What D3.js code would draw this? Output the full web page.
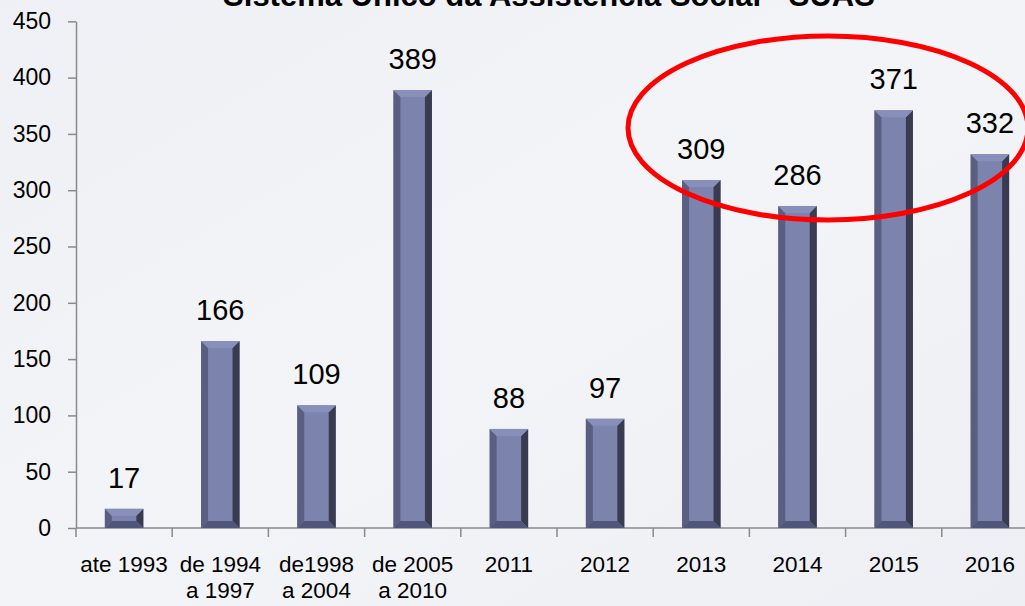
<!DOCTYPE html>
<html><head><meta charset="utf-8">
<script src="https://cdn.jsdelivr.net/npm/d3@7"></script>
<style>html,body{margin:0;padding:0;background:#f1f2f6;overflow:hidden}</style>
</head><body>
<svg id="c" width="1025" height="606"></svg>
<script>
const categories = [["ate 1993"],["de 1994","a 1997"],["de1998","a 2004"],["de 2005","a 2010"],["2011"],["2012"],["2013"],["2014"],["2015"],["2016"]];
const values = [17,166,109,389,88,97,309,286,371,332];
const yTicks = [0,50,100,150,200,250,300,350,400,450];
const title = "Sistema Único da Assistência Social - SUAS";

const svg = d3.select("#c");
const W = 1025, H = 606;
const defs = svg.append("defs");
const bg = defs.append("linearGradient").attr("id","bg").attr("x1","0").attr("y1","0").attr("x2","1").attr("y2","1");
bg.append("stop").attr("offset","0").attr("stop-color","#eff0f5");
bg.append("stop").attr("offset","0.5").attr("stop-color","#f3f4f7");
bg.append("stop").attr("offset","1").attr("stop-color","#eeeff4");
svg.append("rect").attr("width",W).attr("height",H).attr("fill","url(#bg)");

const font = "'Liberation Sans', Arial, sans-serif";
const x0 = 76, plotW = 962;
const x = d3.scaleBand().domain(d3.range(values.length)).range([x0, x0+plotW]).paddingInner(0.6).paddingOuter(0.3);
const y = d3.scaleLinear().domain([0,450]).range([528, 21.3]);

// title (clipped at top)
svg.append("text").attr("x",549).attr("y",6).attr("text-anchor","middle")
  .attr("font-family",font).attr("font-weight","bold").attr("font-size",31).attr("fill","#000").text(title);

// y axis
const ya = svg.append("g").attr("transform",`translate(${x0},0)`)
  .call(d3.axisLeft(y).tickValues(yTicks).tickSize(8).tickSizeOuter(0).tickPadding(17));
ya.select(".domain").attr("stroke","#8a8a8a").attr("stroke-width",1.5);
ya.selectAll(".tick line").attr("stroke","#8a8a8a").attr("stroke-width",1.5);
ya.selectAll(".tick text").attr("font-family",font).attr("font-size",23).attr("fill","#000");

// x axis
const band = plotW/values.length;
const xa = svg.append("g").attr("transform",`translate(0,${y(0)})`);
xa.append("line").attr("x1",x0).attr("x2",W).attr("stroke","#8a8a8a").attr("stroke-width",1.5);
d3.range(0,values.length).forEach(i=>{
  xa.append("line").attr("x1",x0+i*band).attr("x2",x0+i*band).attr("y1",0).attr("y2",9).attr("stroke","#8a8a8a").attr("stroke-width",1.5);
});
categories.forEach((lines,i)=>{
  const cx = x(i)+x.bandwidth()/2;
  lines.forEach((t,j)=>{
    xa.append("text").attr("x",cx).attr("y",44+j*26).attr("text-anchor","middle")
      .attr("font-family",font).attr("font-size",22.5).attr("fill","#000").text(t);
  });
});

// bars with bevel
const bw = x.bandwidth(), bv = 7;
const g = svg.append("g");
values.forEach((v,i)=>{
  const l = x(i), r = l+bw, t = y(v), b = y(0);
  const e = Math.min(bv, (b-t)/2);
  const bar = g.append("g");
  bar.append("rect").attr("x",l).attr("y",t).attr("width",bw).attr("height",b-t).attr("fill","#7c84ae");
  bar.append("path").attr("d",`M${l},${t}L${l+bv},${t+e}L${l+bv},${b-e}L${l},${b}Z`).attr("fill","#5a5f82");
  bar.append("path").attr("d",`M${r},${t}L${r-bv},${t+e}L${r-bv},${b-e}L${r},${b}Z`).attr("fill","#393c50");
  bar.append("path").attr("d",`M${l},${t}L${r},${t}L${r-bv},${t+e}L${l+bv},${t+e}Z`).attr("fill","#8890b9");
  bar.append("path").attr("d",`M${l},${b}L${r},${b}L${r-bv},${b-e}L${l+bv},${b-e}Z`).attr("fill","#50557a");
  svg.append("text").attr("x",l+bw/2).attr("y",t-21).attr("text-anchor","middle")
    .attr("font-family",font).attr("font-size",29).attr("fill","#000").text(v);
});

// red ellipse highlight
svg.append("ellipse").attr("cx",828).attr("cy",128).attr("rx",200).attr("ry",92)
  .attr("fill","none").attr("stroke","#ff0000").attr("stroke-width",5);
</script>
</body></html>
